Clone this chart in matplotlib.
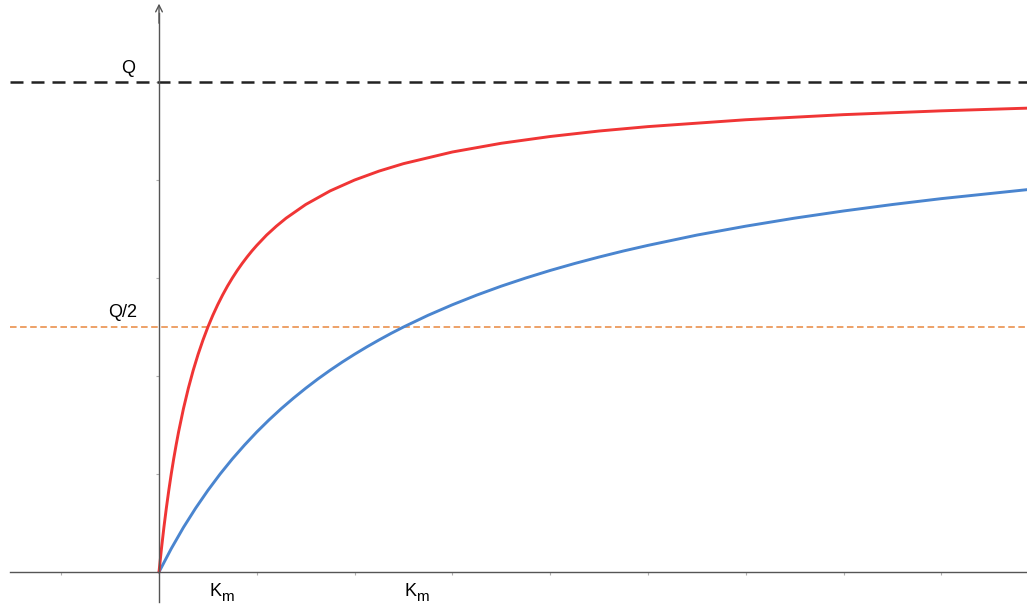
import matplotlib.pyplot as plt

plt.rcParams['font.family'] = ['Liberation Sans', 'DejaVu Sans']

# values (axis units = tick spacing)
Q = 5.0
s_fast = [0, 0.025, 0.05, 0.075, 0.1, 0.125, 0.15, 0.175, 0.2, 0.25, 0.3, 0.35, 0.4, 0.45, 0.5,
          0.55, 0.6, 0.65, 0.7, 0.75, 0.8, 0.85, 0.9, 0.95, 1.0, 1.1, 1.2, 1.3,
          1.5, 1.75, 2.0, 2.25, 2.5, 3.0, 3.5, 4.0, 4.5, 5.0, 6.0, 7.0, 8.0, 8.9]
v_fast = [0, 0.238, 0.455, 0.652, 0.833, 1.0, 1.154, 1.296, 1.429, 1.667, 1.875, 2.059, 2.222,
          2.368, 2.5, 2.619, 2.727, 2.826, 2.917, 3.0, 3.077, 3.148, 3.214, 3.276, 3.333,
          3.438, 3.529, 3.611, 3.75, 3.889, 4.0, 4.091, 4.167, 4.286, 4.375, 4.444, 4.5, 4.545,
          4.615, 4.667, 4.706, 4.734]
s_slow = [0, 0.125, 0.25, 0.375, 0.5, 0.625, 0.75, 0.875, 1.0, 1.125, 1.25, 1.375, 1.5, 1.625,
          1.75, 1.875, 2.0, 2.125, 2.25, 2.375, 2.5, 2.75, 3.0, 3.25, 3.5, 3.75, 4.0, 4.25, 4.5,
          4.75, 5.0, 5.5, 6.0, 6.5, 7.0, 7.5, 8.0, 8.9]
v_slow = [0, 0.238, 0.455, 0.652, 0.833, 1.0, 1.154, 1.296, 1.429, 1.552, 1.667, 1.774, 1.875,
          1.970, 2.059, 2.143, 2.222, 2.297, 2.368, 2.436, 2.5, 2.619, 2.727, 2.826, 2.917, 3.0,
          3.077, 3.148, 3.214, 3.276, 3.333, 3.438, 3.529, 3.611, 3.684, 3.75, 3.81, 3.904]
km_fast = 0.5
km_slow = 2.5
xticks = [-1, 0, 1, 2, 3, 4, 5, 6, 7, 8]
yticks = [1, 2, 3, 4, 5]

fig = plt.figure(figsize=(10.27, 6.06), dpi=100)
ax = fig.add_axes([0, 0, 1, 1])
ax.set_xlim(-1.626, 8.876)
ax.set_ylim(-0.347, 5.837)

for sp in ['top', 'right']:
    ax.spines[sp].set_visible(False)
ax.spines['bottom'].set_position(('data', 0))
ax.spines['left'].set_position(('data', 0))
ax.spines['bottom'].set_bounds(-1.52, 8.876)
ax.spines['left'].set_bounds(-0.31, 5.7)
for sp in ['bottom', 'left']:
    ax.spines[sp].set_color('#555555')
    ax.spines[sp].set_linewidth(1.0)
ax.annotate('', xy=(0, 5.8), xytext=(0, 5.6),
            arrowprops=dict(arrowstyle='->', color='#555555', lw=1.0,
                            mutation_scale=12, shrinkA=0, shrinkB=0))

ax.set_xticks(xticks)
ax.set_yticks(yticks)
ax.set_xticklabels([])
ax.set_yticklabels([])
ax.tick_params(direction='out', length=2, width=0.8, color='#b0b0b0')

# reference lines
ax.plot([-1.52, 8.876], [Q, Q], color='#222222', lw=1.8, dashes=(5.2, 3.2))
ax.plot([-1.52, 8.876], [Q / 2, Q / 2], color='#e8873f', lw=1.1, dashes=(4.3, 2.3))

ax.plot(s_slow, v_slow, color='#4a85cf', lw=2.1, solid_capstyle='round')
ax.plot(s_fast, v_fast, color='#f03535', lw=2.1, solid_capstyle='round')

ax.text(-0.317, 5.143, 'Q', fontsize=13, ha='center', va='center')
ax.text(-0.368, 2.643, 'Q/2', fontsize=13, ha='center', va='center')
for km in [km_fast, km_slow]:
    ax.text(km + 0.015, -0.11, 'K', fontsize=13, ha='left', va='top')
    ax.text(km + 0.13, -0.296, 'm', fontsize=11, ha='left', va='baseline')

fig.savefig('out.png', dpi=100)
